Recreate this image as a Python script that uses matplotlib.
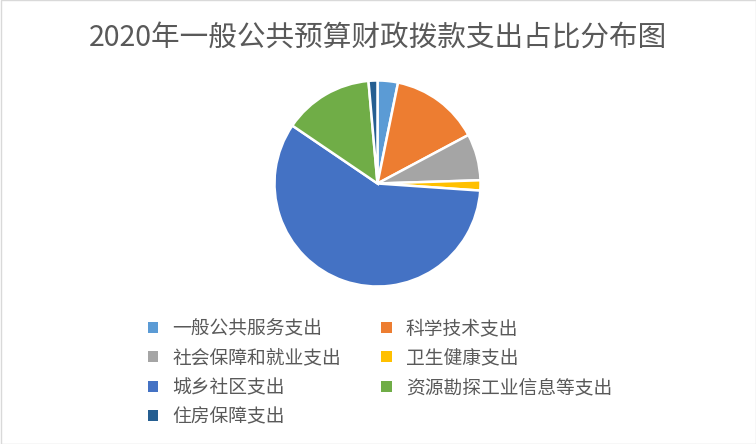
import matplotlib
matplotlib.use("Agg")
import matplotlib.pyplot as plt
from matplotlib.patches import Rectangle

plt.rcParams['font.family'] = ['Noto Sans CJK SC', 'DejaVu Sans']

categories = ["一般公共服务支出", "科学技术支出", "社会保障和就业支出", "卫生健康支出",
              "城乡社区支出", "资源勘探工业信息等支出", "住房保障支出"]
values = [3.2, 14.0, 7.3, 1.6, 58.4, 14.1, 1.4]
colors = ["#5B9BD5", "#ED7D31", "#A5A5A5", "#FFC000", "#4472C4", "#70AD47", "#255E91"]
title = "2020年一般公共预算财政拨款支出占比分布图"

W, H = 756, 444
fig = plt.figure(figsize=(W / 100, H / 100), dpi=100)
fig.patch.set_facecolor("white")
fig.patches.append(Rectangle((0.5 / W, 0.5 / H), 1 - 1.0 / W, 1 - 1.0 / H,
                             transform=fig.transFigure, fill=False,
                             edgecolor="#D9D9D9", linewidth=1))

cx, cy, r = 377.5, 183.5, 103
ax = fig.add_axes([(cx - r) / W, (H - cy - r) / H, 2 * r / W, 2 * r / H])
wedges, _ = ax.pie(values, colors=colors, startangle=90, counterclock=False,
                   radius=1.0, wedgeprops=dict(edgecolor="white", linewidth=1.8))
ax.set_xlim(-1.0, 1.0)
ax.set_ylim(-1.0, 1.0)
ax.set_aspect("equal")
ax.axis("off")

fig.text(378 / W, 1 - 38 / H, title, ha="center", va="center",
         fontsize=20.6, color="#595959")

order = [0, 2, 4, 6, 1, 3, 5]
handles = [wedges[i] for i in order]
labels = [categories[i] for i in order]
leg = fig.legend(handles, labels, ncol=2, loc="upper left",
                 bbox_to_anchor=(148 / W, 1 - 318 / H), frameon=False,
                 fontsize=13.5, handlelength=0.55, handleheight=0.55,
                 handletextpad=0.75, columnspacing=2.15, labelspacing=0.45,
                 borderaxespad=0, borderpad=0)
for h in leg.legend_handles:
    h.set_edgecolor("none")
for t in leg.get_texts():
    t.set_color("#595959")

fig.savefig("out.png", dpi=100, facecolor="white")
